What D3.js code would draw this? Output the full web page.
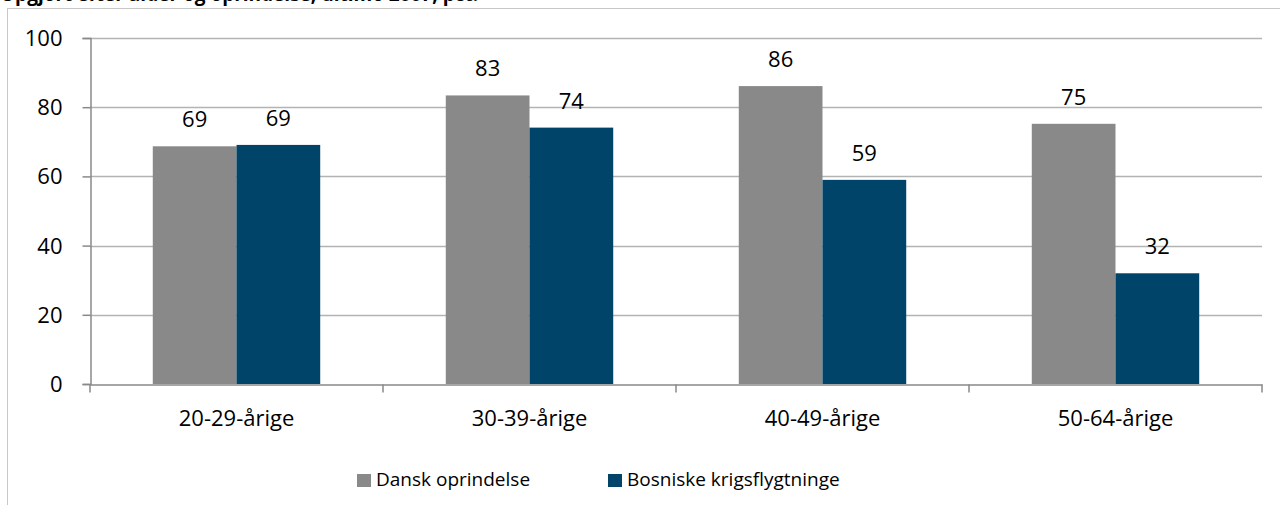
<!DOCTYPE html>
<html>
<head>
<meta charset="utf-8">
<script src="https://cdn.jsdelivr.net/npm/d3@7"></script>
<style>
  body { margin: 0; background: #fff; }
  svg text { font-family: "Open Sans", "Noto Sans", sans-serif; fill: #000; }
</style>
</head>
<body>
<svg id="chart" width="1280" height="505"></svg>
<script>
  // data
  const categories = ['20-29-årige', '30-39-årige', '40-49-årige', '50-64-årige'];
  const seriesNames = ['Dansk oprindelse', 'Bosniske krigsflygtninge'];
  const dansk = [68.7, 83.4, 86.1, 75.2];
  const bosniske = [69.1, 74.1, 59.0, 32.0];
  const yTicks = [0, 20, 40, 60, 80, 100];
  const colors = ['#898989', '#004469'];

  const svg = d3.select('#chart');

  // chart frame
  svg.append('rect')
    .attr('x', 7.5).attr('y', 8.5)
    .attr('width', 1290).attr('height', 520)
    .attr('fill', 'none').attr('stroke', '#c8c8c8');

  // title, mostly cut off at the top (as in the reference)
  svg.append('text')
    .attr('x', 0).attr('y', 1)
    .style('font-weight', 'bold').style('font-size', '19px')
    .text('Opgjort efter alder og oprindelse, ultimo 2007, pct.');

  const plot = { left: 90, right: 1262, top: 38, bottom: 384 };

  const x = d3.scaleBand().domain(categories)
    .range([plot.left, plot.right]).paddingInner(0).paddingOuter(0);
  // gap width 150%: half a gap on each side of the pair
  const xInner = d3.scaleBand().domain(seriesNames)
    .range([0, x.bandwidth()]).paddingInner(0).paddingOuter(0.75);
  const y = d3.scaleLinear().domain([0, 100]).range([plot.bottom, plot.top]);

  // gridlines
  svg.append('g')
    .selectAll('line')
    .data(yTicks.filter(d => d > 0))
    .join('line')
    .attr('x1', plot.left).attr('x2', plot.right)
    .attr('y1', d => Math.round(y(d)) + 0.5).attr('y2', d => Math.round(y(d)) + 0.5)
    .attr('stroke', '#b3b3b3').attr('stroke-width', 1.5);

  // bars
  const rows = categories.map((c, i) => ({ cat: c, vals: [dansk[i], bosniske[i]] }));
  const groups = svg.append('g').selectAll('g')
    .data(rows)
    .join('g')
    .attr('transform', d => `translate(${x(d.cat)},0)`);

  groups.selectAll('rect')
    .data(d => d.vals.map((v, j) => ({ name: seriesNames[j], v, j })))
    .join('rect')
    .attr('x', d => xInner(d.name))
    .attr('width', xInner.bandwidth())
    .attr('y', d => y(d.v))
    .attr('height', d => y(0) - y(d.v))
    .attr('fill', d => colors[d.j]);

  groups.selectAll('text')
    .data(d => d.vals.map((v, j) => ({ name: seriesNames[j], v, j })))
    .join('text')
    .attr('x', d => xInner(d.name) + xInner.bandwidth() / 2)
    .attr('y', d => y(d.v) - 19)
    .attr('text-anchor', 'middle')
    .style('font-size', '22px')
    .text(d => d3.format('.0f')(d.v));

  // y axis
  const yAxis = svg.append('g')
    .attr('transform', `translate(${plot.left + 0.5},0)`)
    .call(d3.axisLeft(y).tickValues(yTicks).tickSize(8).tickPadding(20));
  yAxis.select('.domain').attr('stroke', '#898989').attr('stroke-width', 1.5);
  yAxis.selectAll('.tick line').attr('stroke', '#898989').attr('stroke-width', 1.5);
  yAxis.selectAll('.tick text')
    .style('font-size', '22px')
    .style('font-family', '"Open Sans", sans-serif')
    .attr('dy', '0.34em');

  // x axis
  const xAxis = svg.append('g')
    .attr('transform', `translate(0,${plot.bottom + 0.5})`)
    .call(d3.axisBottom(x).tickSize(0).tickPadding(26));
  xAxis.select('.domain').attr('stroke', '#898989').attr('stroke-width', 1.5);
  xAxis.selectAll('.tick text')
    .style('font-size', '22px')
    .style('font-family', '"Open Sans", sans-serif');
  // category boundary ticks
  xAxis.append('g')
    .selectAll('line')
    .data(d3.range(categories.length + 1))
    .join('line')
    .attr('x1', i => plot.left + i * x.step()).attr('x2', i => plot.left + i * x.step())
    .attr('y1', 0).attr('y2', 8)
    .attr('stroke', '#898989').attr('stroke-width', 1.5);

  // legend
  const legendX = [357, 608];
  const legend = svg.append('g').selectAll('g')
    .data(seriesNames)
    .join('g')
    .attr('transform', (d, i) => `translate(${legendX[i]},474)`);
  legend.append('rect')
    .attr('width', 14).attr('height', 13)
    .attr('fill', (d, i) => colors[i]);
  legend.append('text')
    .attr('x', 19).attr('y', 12)
    .style('font-size', '19px')
    .text(d => d);
</script>
</body>
</html>
